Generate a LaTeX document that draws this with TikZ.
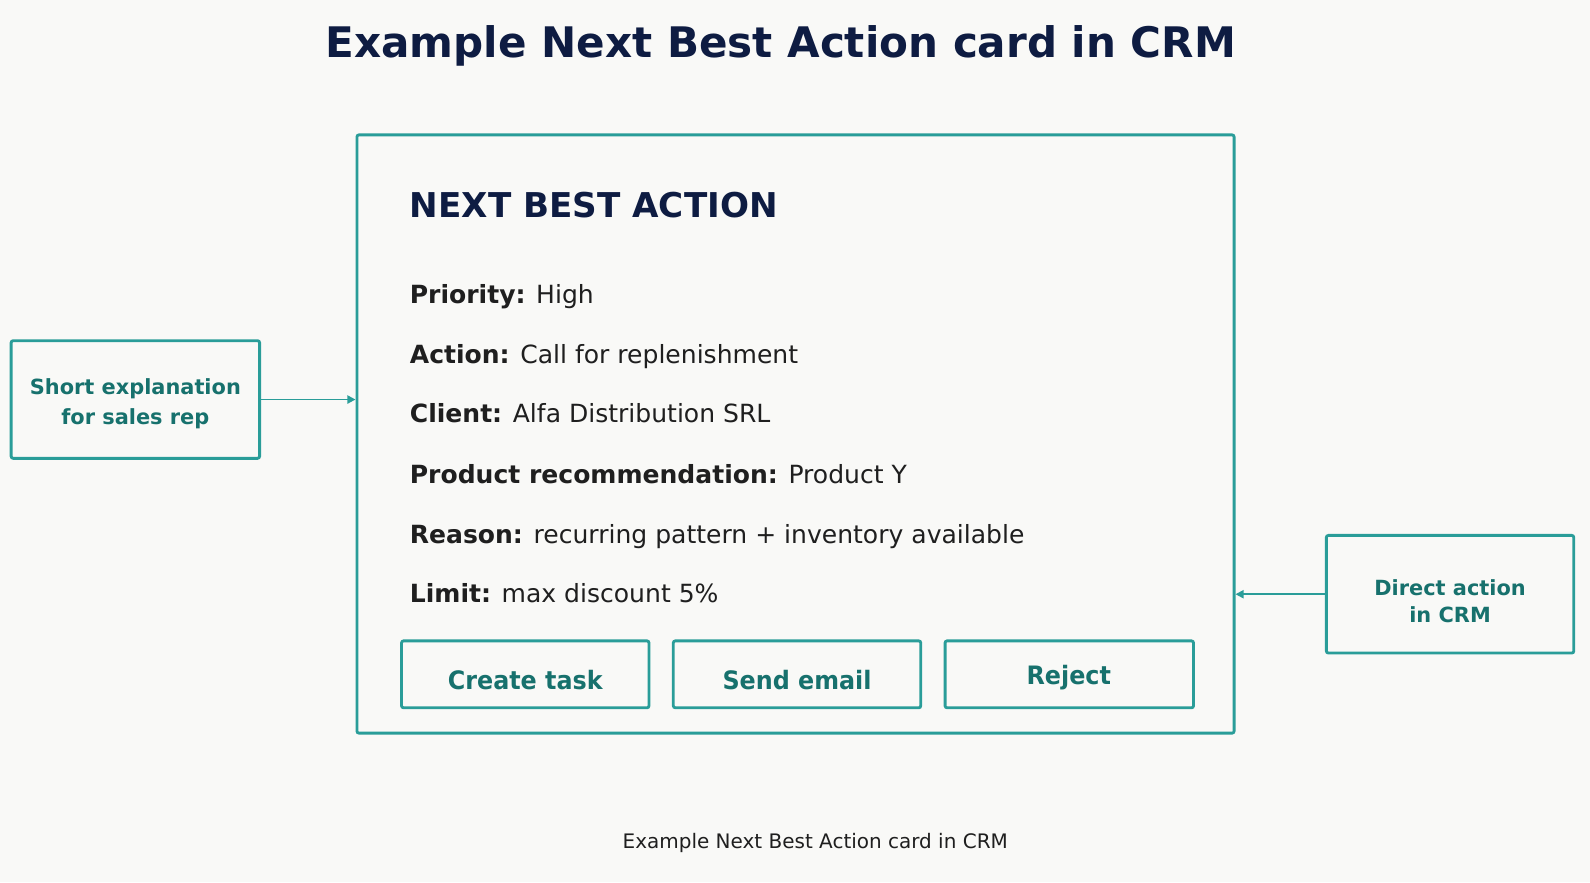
\documentclass[tikz,border=0pt]{standalone}
\usepackage{fontspec}
\setmainfont{DejaVu Sans}
\usetikzlibrary{arrows.meta}
\definecolor{bg}{HTML}{F9F9F7}
\definecolor{navy}{HTML}{0E1C42}
\definecolor{teal}{HTML}{2A9D99}
\definecolor{tealtext}{HTML}{17716D}
\definecolor{ink}{HTML}{1F1F1F}
\tikzset{
  box/.style={draw=teal, line width=2.8pt, rounded corners=2pt, fill=bg, inner sep=0pt, align=center},
  sidetext/.style={font=\fontsize{20.6}{29}\selectfont\bfseries, text=tealtext},
  btntext/.style={font=\fontsize{25}{28}\selectfont\bfseries, text=tealtext},
  row/.style={anchor=base west, inner sep=0pt, font=\fontsize{24.7}{28}\selectfont, text=ink},
  conn/.style={draw=teal, line width=1.8pt, -{Triangle[length=8pt,width=8pt]}}
}
\begin{document}
\begin{tikzpicture}[x=1pt,y=-1pt]
\fill[bg] (0,0) rectangle (1568,869.8);
\useasboundingbox (0,0) rectangle (1568,869.8);
\node[inner sep=0pt, font=\fontsize{41.5}{48}\selectfont\bfseries, text=navy] (title) at (770,45.5) {Example Next Best Action card in CRM};
\node[box, minimum width=865pt, minimum height=590pt] (card) at (784.5,428) {};
\node[anchor=base west, inner sep=0pt, font=\fontsize{33.7}{40}\selectfont\bfseries, text=navy] (head) at (404,214) {NEXT BEST ACTION};
\node[row] (r1) at (404,299) {\textbf{Priority:} High};
\node[row] (r2) at (404,358) {\textbf{Action:} Call for replenishment};
\node[row] (r3) at (404,417) {\textbf{Client:} Alfa Distribution SRL};
\node[row] (r4) at (404,476.5) {\textbf{Product recommendation:} Product Y};
\node[row] (r5) at (404,535.5) {\textbf{Reason:} recurring pattern + inventory available};
\node[row] (r6) at (404,594.5) {\textbf{Limit:} max discount 5\%};
\node[box, minimum width=244pt, minimum height=66pt] (b1) at (518,665) {};
\node[btntext] at (518,671) {\scalebox{0.94}[1]{Create task}};
\node[box, minimum width=244pt, minimum height=66pt] (b2) at (786,665) {};
\node[btntext] at (786,671) {\scalebox{0.94}[1]{Send email}};
\node[box, minimum width=245pt, minimum height=66pt] (b3) at (1054.5,665) {};
\node[btntext] at (1054,668) {\scalebox{0.94}[1]{Reject}};
\node[box, minimum width=245pt, minimum height=116pt] (expl) at (133.5,394) {};
\node[sidetext, align=center] (expltext) at (133.5,398) {Short explanation\\for sales rep};
\node[box, minimum width=244pt, minimum height=116pt] (direct) at (1430,586) {};
\node[sidetext, align=center, font=\fontsize{20.6}{26}\selectfont\bfseries] (directtext) at (1430,593) {Direct action\\in CRM};
\draw[conn] (expl.east) -- (expl.east -| card.west);
\draw[conn] (direct.west) -- (direct.west -| card.east);
\node[inner sep=0pt, font=\fontsize{19.7}{24}\selectfont, text=ink] (cap) at (804,831) {Example Next Best Action card in CRM};
\end{tikzpicture}
\end{document}
